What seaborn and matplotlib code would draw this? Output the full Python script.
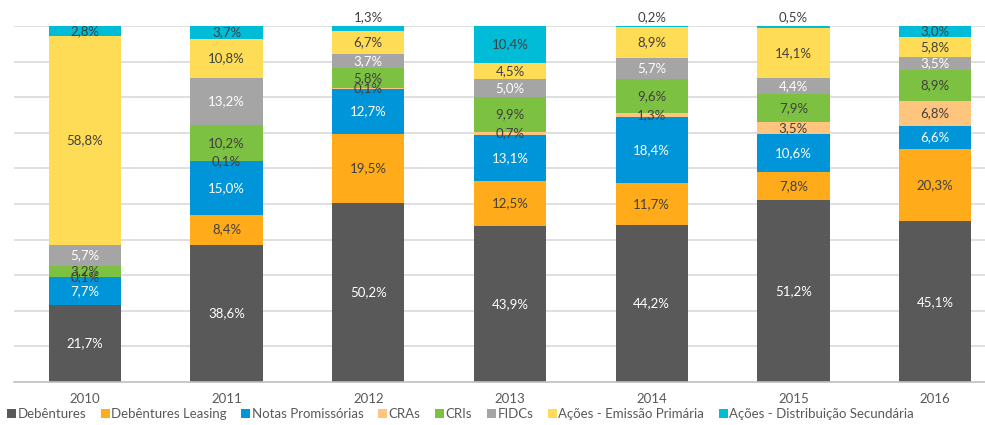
import numpy as np
import pandas as pd
import matplotlib
matplotlib.use("Agg")
import matplotlib.pyplot as plt
import seaborn as sns
from matplotlib.patches import Patch

# ---- data ----
years = ["2010", "2011", "2012", "2013", "2014", "2015", "2016"]
series_names = ["Debêntures", "Debêntures Leasing", "Notas Promissórias", "CRAs",
                "CRIs", "FIDCs", "Ações - Emissão Primária", "Ações - Distribuição Secundária"]
debentures = [21.7, 38.6, 50.2, 43.9, 44.2, 51.2, 45.1]
debentures_leasing = [0.0, 8.4, 19.5, 12.5, 11.7, 7.8, 20.3]
notas_promissorias = [7.7, 15.0, 12.7, 13.1, 18.4, 10.6, 6.6]
cras = [0.1, 0.1, 0.1, 0.7, 1.3, 3.5, 6.8]
cris = [3.2, 10.2, 5.8, 9.9, 9.6, 7.9, 8.9]
fidcs = [5.7, 13.2, 3.7, 5.0, 5.7, 4.4, 3.5]
acoes_primaria = [58.8, 10.8, 6.7, 4.5, 8.9, 14.1, 5.8]
acoes_secundaria = [2.8, 3.7, 1.3, 10.4, 0.2, 0.5, 3.0]

series_values = [debentures, debentures_leasing, notas_promissorias, cras,
                 cris, fidcs, acoes_primaria, acoes_secundaria]

# ---- styles ----
colors = ["#595959", "#FFAB1A", "#0094D8", "#FFC47E", "#7DC142", "#A5A5A5", "#FFDC55", "#00BCD6"]
label_colors = ["white", "#404040", "white", "#404040", "#404040", "white", "#404040", "#404040"]
text_color = "#595959"

sns.set_theme(style="white")
plt.rcParams["font.family"] = ["Lato", "DejaVu Sans"]

W, H = 985, 425
fig = plt.figure(figsize=(W / 100, H / 100), dpi=100)
left_px, right_px, top_px, bottom_px = 14, 1006, 26, 382
ax = fig.add_axes([left_px / W, (H - bottom_px) / H, (right_px - left_px) / W, (bottom_px - top_px) / H])

cum = np.zeros(len(years))
for name, vals, col, lc in zip(series_names, series_values, colors, label_colors):
    vals = np.array(vals, dtype=float)
    df = pd.DataFrame({"year": years, "value": vals})
    sns.barplot(data=df, x="year", y="value", bottom=cum, color=col, width=0.51,
                errorbar=None, ax=ax, linewidth=0, saturation=1)
    for i, v in enumerate(vals):
        if v <= 0:
            continue
        top_small = (name == series_names[-1]) and v < 2
        if top_small:
            ax.annotate(f"{v:.1f}%".replace(".", ","), xy=(i, 100), xytext=(0, 2),
                        textcoords="offset points", ha="center", va="bottom",
                        fontsize=9.5, color="#404040")
        else:
            ax.text(i, cum[i] + v / 2, f"{v:.1f}%".replace(".", ","), ha="center",
                    va="center", fontsize=9.5, color=lc)
    cum += vals

ax.set_ylim(0, 100)
ax.set_xlim(-0.5, len(years) - 0.5)
ax.set_yticks(np.arange(10, 101, 10))
ax.set_yticklabels([])
ax.tick_params(axis="y", length=0)
ax.yaxis.grid(True, color="#D9D9D9", linewidth=1.2)
ax.set_axisbelow(True)
ax.set_xlabel("")
ax.set_ylabel("")
for s in ["top", "right", "left"]:
    ax.spines[s].set_visible(False)
ax.spines["bottom"].set_color("#BFBFBF")
ax.spines["bottom"].set_linewidth(1.2)
ax.set_xticks(range(len(years)))
ax.set_xticklabels(years, fontsize=9.5, color=text_color)
ax.tick_params(axis="x", which="major", length=0, pad=8)
ax.set_xticks(np.arange(-0.5, len(years), 1), minor=True)
ax.tick_params(axis="x", which="minor", length=5, width=1.2, color="#BFBFBF", direction="out")

handles = [Patch(facecolor=c, edgecolor="none") for c in colors]
leg = fig.legend(handles, series_names, loc="center left",
                 bbox_to_anchor=(7 / W, (H - 414) / H), ncol=len(series_names),
                 frameon=False, fontsize=9.5, handlelength=0.68, handleheight=0.68,
                 handletextpad=0.12, columnspacing=1.1, borderpad=0, borderaxespad=0)
for t in leg.get_texts():
    t.set_color(text_color)

fig.savefig("out.png", dpi=100)
